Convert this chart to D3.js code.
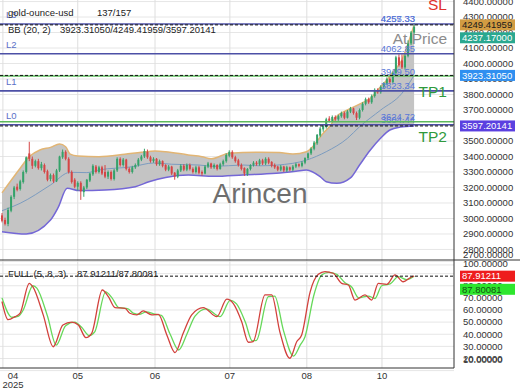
<!DOCTYPE html>
<html>
<head>
<meta charset="utf-8">
<script src="https://cdn.jsdelivr.net/npm/d3@7"></script>
<style>
  body { margin: 0; background: #fff; }
  svg { display: block; font-family: "Liberation Sans", Arial, sans-serif; }
</style>
</head>
<body>
<svg id="chart"></svg>
<script>
// daily candles [open, high, low, close]
const candles = [
  [3020,3035,2975,2985],[2990,3005,2955,2965],[2965,3070,2950,3055],[3050,3150,3040,3140],
  [3140,3210,3125,3200],[3205,3225,3175,3185],[3190,3250,3180,3240],[3235,3310,3225,3300],
  [3300,3400,3290,3395],[3420,3495,3370,3385],[3385,3400,3320,3340],[3340,3380,3330,3370],
  [3370,3385,3315,3325],[3325,3365,3310,3350],[3345,3355,3290,3300],[3305,3315,3240,3250],
  [3255,3290,3240,3280],[3280,3290,3230,3240],[3240,3320,3235,3310],[3310,3405,3300,3400],
  [3395,3445,3385,3430],[3430,3440,3375,3385],[3385,3395,3290,3300],[3300,3310,3225,3235],
  [3250,3260,3195,3205],[3205,3240,3180,3230],[3230,3240,3120,3175],[3170,3210,3140,3200],
  [3200,3255,3190,3250],[3245,3295,3235,3290],[3285,3350,3275,3340],[3335,3345,3290,3300],
  [3300,3340,3290,3330],[3330,3340,3280,3290],[3300,3345,3260,3270],[3270,3310,3255,3300],
  [3300,3310,3245,3255],[3255,3320,3245,3310],[3310,3395,3300,3385],[3385,3395,3335,3345],
  [3345,3390,3335,3380],[3380,3385,3310,3320],[3320,3330,3290,3300],[3300,3340,3290,3330],
  [3330,3355,3320,3345],[3345,3390,3335,3380],[3380,3410,3370,3400],[3400,3450,3390,3435],
  [3430,3445,3385,3395],[3395,3405,3360,3370],[3370,3395,3360,3385],[3385,3390,3340,3350],
  [3350,3380,3340,3370],[3370,3375,3330,3340],[3345,3350,3305,3315],[3315,3345,3305,3335],
  [3335,3340,3280,3290],[3295,3300,3250,3270],[3270,3320,3260,3310],[3310,3350,3300,3340],
  [3340,3350,3305,3315],[3315,3355,3305,3345],[3345,3355,3310,3320],[3320,3330,3290,3300],
  [3300,3340,3290,3330],[3330,3340,3285,3295],[3300,3310,3275,3290],[3290,3345,3285,3335],
  [3335,3365,3325,3355],[3355,3360,3320,3330],[3330,3355,3320,3345],[3345,3350,3310,3320],
  [3320,3360,3315,3350],[3350,3380,3340,3370],[3370,3420,3360,3410],[3405,3440,3395,3430],
  [3430,3440,3385,3395],[3395,3405,3360,3370],[3375,3385,3335,3345],[3345,3355,3310,3320],
  [3325,3330,3275,3290],[3285,3325,3275,3320],[3320,3350,3310,3345],[3345,3370,3335,3360],
  [3360,3370,3340,3350],[3350,3385,3340,3375],[3375,3385,3345,3355],[3355,3395,3345,3385],
  [3385,3395,3350,3360],[3365,3370,3330,3340],[3345,3355,3320,3330],[3335,3340,3305,3315],
  [3315,3345,3305,3335],[3335,3340,3300,3310],[3310,3340,3300,3330],[3330,3335,3305,3315],
  [3315,3345,3305,3335],[3335,3360,3325,3350],[3350,3355,3330,3340],[3340,3370,3330,3360],
  [3360,3395,3350,3390],[3390,3425,3380,3420],[3420,3460,3410,3450],[3450,3500,3440,3490],
  [3485,3545,3475,3540],[3535,3590,3525,3580],[3575,3610,3560,3600],[3590,3650,3580,3640],
  [3645,3660,3620,3630],[3630,3665,3620,3655],[3655,3665,3630,3640],[3640,3670,3630,3660],
  [3660,3690,3650,3680],[3680,3690,3640,3650],[3650,3700,3645,3690],[3690,3720,3680,3710],
  [3710,3715,3670,3680],[3680,3690,3635,3650],[3650,3710,3640,3700],[3700,3750,3690,3740],
  [3740,3780,3730,3770],[3770,3780,3740,3750],[3750,3800,3740,3790],[3790,3840,3780,3830],
  [3830,3840,3805,3815],[3815,3860,3805,3850],[3850,3880,3840,3870],[3870,3910,3860,3900],
  [3900,3910,3870,3880],[3880,3950,3870,3940],[3940,4050,3930,4040],[4040,4060,3980,3990],
  [4020,4060,3965,3975],[3975,4060,3960,4050],[4050,4150,4040,4130],[4130,4210,4120,4200],
  [4200,4260,4190,4237.17]
];

// Bollinger band: [bar index, price]
const bbUpper = [[0,3165],[6,3324],[9,3399],[12.5,3442],[16,3459],[19,3480],[21,3463],[22.5,3415],
  [25,3403],[32,3399],[40.5,3414],[46,3427],[50.5,3435],[54,3431],[61.5,3410],[66,3399],
  [69,3385],[75,3421],[85,3428],[91.5,3425],[96,3416],[100.5,3431],[102.5,3463],[106,3550],
  [108.5,3603],[110,3650],[114,3700],[118.5,3743],[122,3782],[124,3829],[127,3894],
  [129.5,3958],[132,4023],[134,4130],[136,4249.42]];
const bbMiddle = [[0,3050],[6,3098],[16,3216],[22.5,3298],[28,3296],[32,3313],[43,3334],[50,3358],
  [56,3350],[65,3345],[70,3336],[79.5,3345],[85,3340],[96,3356],[100.5,3377],[107,3431],
  [114,3517],[118,3592],[125,3700],[132,3808],[136,3923.31]];
const bbLower = [[0,2915],[8,2900],[16,2990],[18.5,3070],[21.5,3195],[25.5,3180],[34,3184],[44,3205],
  [48.5,3237],[54,3265],[61.5,3280],[70,3272],[79.5,3281],[90.5,3292],[97,3305],[100.5,3313],
  [105,3270],[107,3237],[110.5,3227],[115,3262],[118,3345],[121.5,3440],[125,3519],
  [128,3571],[131.5,3590],[136,3597.2]];
const bbLast = [3923.31050, 4249.41959, 3597.20141];
const lastClose = 4237.17;

// stochastic full (5, 8, 3): [bar index, value]
const stochK = [[0,67],[2,52],[4.3,54.5],[6,57.5],[9,82],[10.2,79],[13.6,56],[16.9,29.7],[20.1,47.6],
  [23,50],[25.2,47.6],[27.7,37.2],[29.6,40.8],[33.1,76.5],[35.1,71],[37.3,62],[40.6,61.4],
  [42.2,57.3],[44.5,56],[46.6,59.2],[49.4,56],[51.6,56.4],[54.4,39.4],[57.1,24.8],[59.8,40.8],
  [62.6,56],[66.4,62],[70.9,54.5],[74.2,69],[76.3,65.5],[79.1,50.3],[81.3,33.4],[82.9,34],
  [86.8,72.4],[89,72.4],[91.7,42],[95,20.2],[97.3,34],[98.9,39.4],[101.7,75],[104.4,89.4],
  [106.6,91.6],[109.3,90.3],[112.1,82],[114.3,80.6],[116.5,68.2],[119.8,72.4],[122,68.2],
  [124.2,82],[127,81.2],[129.7,88.9],[132.4,83.3],[135,87],[136,87.91]];
const stochD = [[0,70],[3.3,54],[5.5,55],[7,60],[10.2,80],[11.5,78],[15,55],[17.9,31],[21,47],
  [24,50],[26.2,46],[28.8,39],[30.6,42],[34.2,75],[36.3,70],[38.5,62],[41.6,61],[43.3,57.5],
  [45.5,56.5],[47.6,58.5],[50.5,56.5],[52.6,55.5],[55.5,40],[58.3,27],[61,40],[63.7,55],
  [67.4,61],[72,54.5],[75.3,68],[77.4,65],[80.3,50],[82.6,34.5],[84,35],[87.9,71],[90,71.5],
  [92.9,43],[96.2,22],[98.4,31],[100,38],[102.9,72],[105.6,89],[107.8,91],[110.4,89.5],
  [113.2,82.5],[115.4,79],[117.7,70],[120.9,71.5],[123.1,69.5],[125.3,80],[128.1,81.5],
  [130.8,87.5],[133.5,85],[136,87.8]];
const stochLast = [87.91211, 87.80081];

// price levels
const levels = [
  { name: "L3", price: 4255.33 },
  { name: "L2", price: 4062.85 },
  { name: "L1", price: 3823.34 },
  { name: "L0", price: 3604.44 }
];
const targets = [
  { name: "SL", price: 4475, kind: "sl" },
  { name: "At Price", price: 4257.33, kind: "at" },
  { name: "TP1", price: 3919.50, kind: "tp" },
  { name: "TP2", price: 3624.72, kind: "tp" }
];

const priceTicks = [2700,2800,2900,3000,3100,3200,3300,3400,3500,3600,3700,3800,3900,4000,4100,4200,4300,4400];
const stochTicks = [10,20,30,40,50,60,70,80,90,100];
const monthTicks = [
  { i: 0.3, label: "04", year: "2025" },
  { i: 25, label: "05" },
  { i: 50.5, label: "06" },
  { i: 75.2, label: "07" },
  { i: 100.6, label: "08" },
  { i: 125.4, label: "10" }
];

const width = 520, height = 390;
const plotW = 454;
const main = { top: 0, bottom: 260 };
const low = { top: 260, bottom: 368 };

const svg = d3.select("#chart").attr("width", width).attr("height", height);
const fmt = d3.format(".5f");

const x = d3.scaleLinear().domain([-0.66, 149.17]).range([0, plotW]);
const y = d3.scaleLinear().domain([2732, 4410]).range([main.bottom, main.top]);
const ys = d3.scaleLinear().domain([12.16, 101.24]).range([low.bottom, low.top]);

const defs = svg.append("defs");
defs.append("clipPath").attr("id", "clipMain")
  .append("rect").attr("x", 0).attr("y", main.top).attr("width", plotW).attr("height", main.bottom - main.top);
defs.append("clipPath").attr("id", "clipLow")
  .append("rect").attr("x", 0).attr("y", low.top).attr("width", plotW).attr("height", low.bottom - low.top);

// grid
const grid = svg.append("g");
grid.selectAll(".hg").data(priceTicks).enter().append("line")
  .attr("x1", 0).attr("x2", plotW).attr("y1", d => y(d)).attr("y2", d => y(d))
  .attr("stroke", "#e6e6e6");
grid.selectAll(".hs").data(stochTicks).enter().append("line")
  .attr("x1", 0).attr("x2", plotW).attr("y1", d => ys(d)).attr("y2", d => ys(d))
  .attr("stroke", "#e6e6e6");
grid.selectAll(".vg").data(monthTicks).enter().append("line")
  .attr("x1", d => x(d.i)).attr("x2", d => x(d.i)).attr("y1", 0).attr("y2", low.bottom)
  .attr("stroke", "#dedede");

const gm = svg.append("g").attr("clip-path", "url(#clipMain)");

// band fill built from upper and lower outlines
const bandLine = d3.line().x(d => x(d[0])).y(d => y(d[1])).curve(d3.curveMonotoneX);
const pathUp = bandLine(bbUpper);
const pathLowRev = bandLine(bbLower.slice().reverse());
gm.append("path")
  .attr("d", pathUp + "L" + pathLowRev.slice(1) + "Z")
  .attr("fill", "#c4c4c4");
gm.append("path").attr("d", bandLine(bbUpper)).attr("fill", "none")
  .attr("stroke", "#e2b574").attr("stroke-width", 1.5);
gm.append("path").attr("d", bandLine(bbLower)).attr("fill", "none")
  .attr("stroke", "#7467d6").attr("stroke-width", 1.5);
gm.append("path").attr("d", bandLine(bbMiddle)).attr("fill", "none")
  .attr("stroke", "#7c9cc0").attr("stroke-width", 1);

// candles
const cg = gm.append("g");
candles.forEach((c, i) => {
  const [o, h, l, cl] = c;
  const col = cl >= o ? "#35a26a" : "#d54545";
  const cx = x(i);
  cg.append("line").attr("x1", cx).attr("x2", cx).attr("y1", y(h)).attr("y2", y(l))
    .attr("stroke", col).attr("stroke-width", 1);
  const top = y(Math.max(o, cl)), bot = y(Math.min(o, cl));
  cg.append("rect").attr("x", cx - 1).attr("width", 2)
    .attr("y", top).attr("height", Math.max(1, bot - top)).attr("fill", col);
});

// level lines
levels.forEach(lv => {
  const ly = y(lv.price);
  gm.append("line").attr("x1", 0).attr("x2", plotW).attr("y1", ly).attr("y2", ly)
    .attr("stroke", "#4d50a6").attr("stroke-width", 1.6);
  gm.append("text").attr("x", 6).attr("y", ly - 6).text(lv.name)
    .attr("font-size", 9.5).attr("fill", "#5b6fc7");
  gm.append("text").attr("x", 415).attr("y", ly - 1.5).attr("text-anchor", "end")
    .text(lv.price.toFixed(2)).attr("font-size", 9.5).attr("fill", "#5b78d8");
});
targets.forEach(t => {
  const ly = y(t.price);
  if (t.kind === "tp") {
    gm.append("line").attr("x1", 0).attr("x2", plotW).attr("y1", ly).attr("y2", ly)
      .attr("stroke", "#5cb85c").attr("stroke-width", 1.5);
  }
  if (t.kind !== "sl") {
    gm.append("text").attr("x", 415).attr("y", ly - 1.5).attr("text-anchor", "end")
      .text(t.price.toFixed(2)).attr("font-size", 9.5).attr("fill", "#5b78d8");
  }
  const col = t.kind === "tp" ? "#2f9a3c" : t.kind === "sl" ? "#e0302c" : "#8c8c8c";
  gm.append("text").attr("x", 447).attr("y", ly + 20.5).attr("text-anchor", "end")
    .text(t.name).attr("font-size", 15.5).attr("fill", col);
});

// BB current values as dashed lines
bbLast.forEach(v => {
  gm.append("line").attr("x1", 0).attr("x2", plotW).attr("y1", y(v)).attr("y2", y(v))
    .attr("stroke", "#111").attr("stroke-width", 1).attr("stroke-dasharray", "3,2");
});

// watermark
svg.append("text").attr("x", 260).attr("y", 203).attr("text-anchor", "middle")
  .text("Arincen").attr("font-size", 28).attr("fill", "#6e6e6e");

// header texts
svg.append("text").attr("x", 8).attr("y", 16).text("gold-ounce-usd").attr("font-size", 9.5).attr("fill", "#222");
svg.append("text").attr("x", 97).attr("y", 16).text("137/157").attr("font-size", 9.5).attr("fill", "#222");
svg.append("text").attr("x", 8).attr("y", 33).text("BB (20, 2)").attr("font-size", 9.5).attr("fill", "#222");
svg.append("text").attr("x", 60).attr("y", 33).text(bbLast.map(fmt).join("/")).attr("font-size", 9.5).attr("fill", "#222");

// stochastic panel
const gl = svg.append("g").attr("clip-path", "url(#clipLow)");
const sLine = d3.line().x(d => x(d[0])).y(d => ys(d[1])).curve(d3.curveMonotoneX);
gl.append("path").attr("d", sLine(stochD)).attr("fill", "none")
  .attr("stroke", "#66d85a").attr("stroke-width", 1.3);
gl.append("path").attr("d", sLine(stochK)).attr("fill", "none")
  .attr("stroke", "#d2413c").attr("stroke-width", 1.3);
gl.append("line").attr("x1", 0).attr("x2", plotW).attr("y1", ys(stochLast[0])).attr("y2", ys(stochLast[0]))
  .attr("stroke", "#111").attr("stroke-dasharray", "3,2");
svg.append("text").attr("x", 8).attr("y", 277).text("FULL (5, 8, 3)").attr("font-size", 9.5).attr("fill", "#222");
svg.append("text").attr("x", 77).attr("y", 277).text(stochLast.map(fmt).join("/")).attr("font-size", 9.5).attr("fill", "#222");

// frame
svg.append("line").attr("x1", 0).attr("x2", width).attr("y1", low.top).attr("y2", low.top).attr("stroke", "#333");
svg.append("line").attr("x1", 0).attr("x2", plotW).attr("y1", low.bottom).attr("y2", low.bottom).attr("stroke", "#333");
svg.append("line").attr("x1", plotW).attr("x2", plotW).attr("y1", 0).attr("y2", low.bottom).attr("stroke", "#333");

// right axis labels
const ax = svg.append("g").attr("font-size", 9.5).attr("fill", "#333");
priceTicks.forEach(p => {
  const ty = Math.min(y(p), 255);
  ax.append("text").attr("x", 463).attr("y", ty).attr("dy", "0.35em").text(fmt(p));
});
stochTicks.forEach(v => {
  const ty = Math.max(264, Math.min(ys(v), 360));
  ax.append("text").attr("x", 463).attr("y", ty).attr("dy", "0.35em").text(fmt(v));
});

// badges
function badge(cy, label, bg, fg) {
  svg.append("rect").attr("x", 460).attr("y", cy - 5.5).attr("width", 55).attr("height", 11).attr("fill", bg);
  svg.append("text").attr("x", 462).attr("y", cy).attr("dy", "0.35em").text(label)
    .attr("font-size", 9.5).attr("fill", fg);
}
badge(y(bbLast[1]), fmt(bbLast[1]), "#d29c42", "#1a1a1a");
badge(y(lastClose) + 11, fmt(lastClose), "#2aa890", "#fff");
badge(y(bbLast[0]), fmt(bbLast[0]), "#2f8ff0", "#fff");
badge(y(bbLast[2]), fmt(bbLast[2]), "#5b40e0", "#fff");
badge(ys(stochLast[0]), fmt(stochLast[0]), "#ee1d1d", "#fff");
badge(ys(stochLast[1]) + 13, fmt(stochLast[1]), "#2ee62e", "#145214");

// x axis labels
monthTicks.forEach(t => {
  const tx = Math.max(x(t.i), 13);
  svg.append("text").attr("x", tx).attr("y", 379).attr("text-anchor", "middle")
    .text(t.label).attr("font-size", 9.5).attr("fill", "#333");
  if (t.year) {
    svg.append("text").attr("x", tx).attr("y", 388).attr("text-anchor", "middle")
      .text(t.year).attr("font-size", 9.5).attr("fill", "#333");
  }
});
</script>
</body>
</html>
